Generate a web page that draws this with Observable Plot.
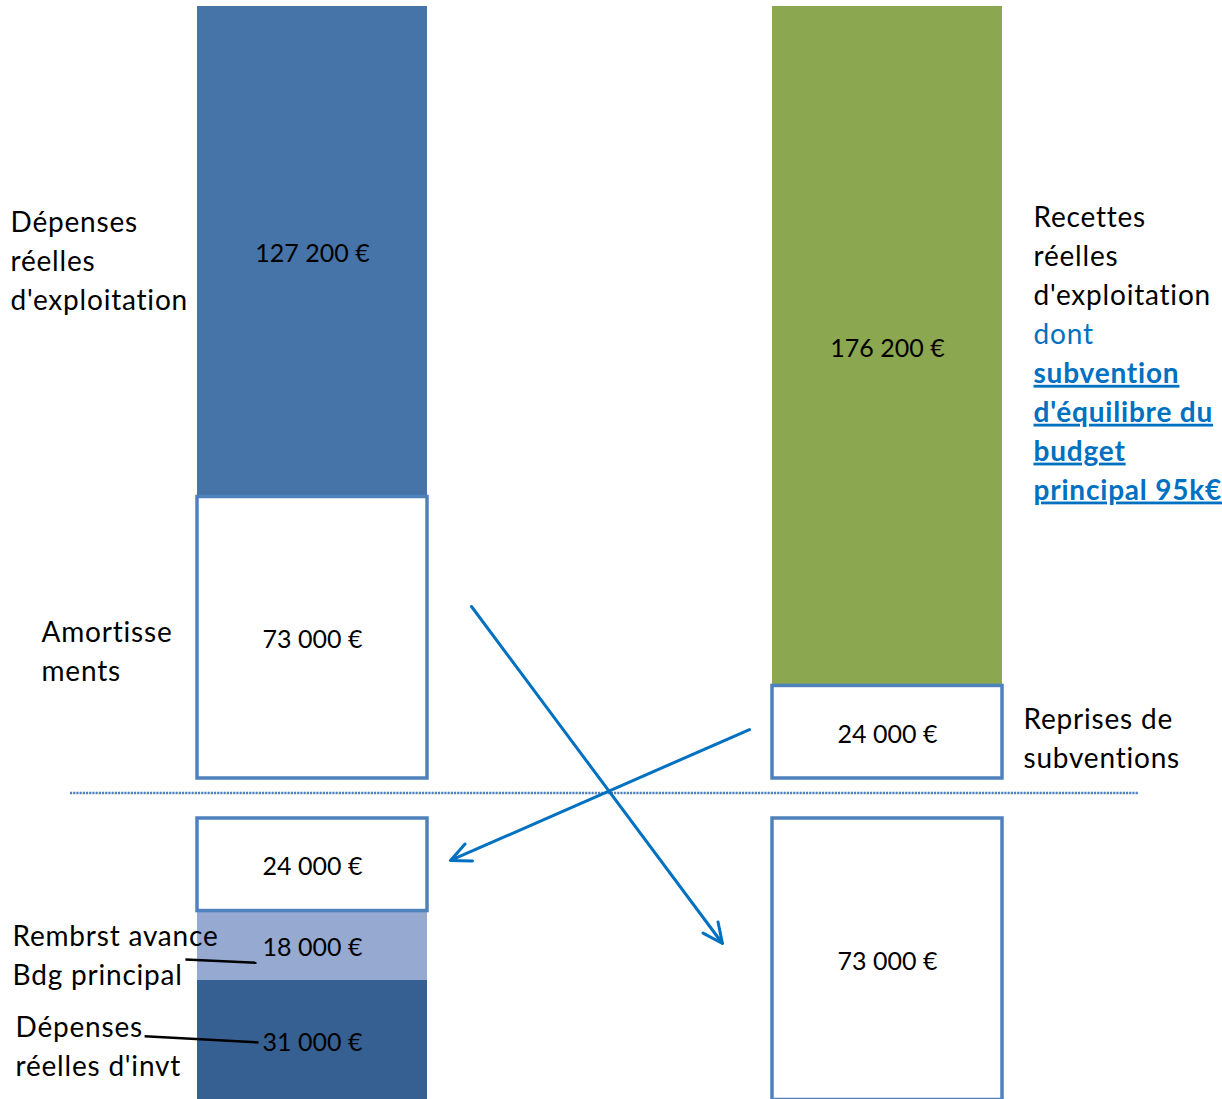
<!DOCTYPE html>
<html><head><meta charset="utf-8">
<script src="https://cdn.jsdelivr.net/npm/d3@7"></script>
<script src="https://cdn.jsdelivr.net/npm/@observablehq/plot@0.6"></script>
<style>body{margin:0;background:#fff;} svg{display:block}</style>
</head><body><div id="chart"></div>
<script>
// ---- data ----
const sides = ["Dépenses", "Recettes"];               // column 0 = dépenses, column 1 = recettes
const segSection = ["fonct", "fonct", "fonct", "fonct", "invest", "invest", "invest", "invest"];
const segSide    = [0, 0, 1, 1, 0, 0, 0, 1];
const segNames   = ["Amortissements", "Dépenses réelles d'exploitation", "Reprises de subventions",
                    "Recettes réelles d'exploitation", "Reprises de subventions (invt)",
                    "Rembrst avance Bdg principal", "Dépenses réelles d'invt", "Amortissements (invt)"];
const segValues  = [73000, 127200, 24000, 176200, 24000, 18000, 31000, 73000];

// side captions (text, attached segment)
const captionTexts = ["Dépenses\nréelles\nd'exploitation", "Amortisse\nments", "Reprises de\nsubventions",
                      "Rembrst avance\nBdg principal", "Dépenses\nréelles d'invt"];
const captionSeg   = [1, 0, 2, 5, 6];
const recettesCaption = "Recettes\nréelles\nd'exploitation";
const dontCaption = "dont";
const subventionCaption = "subvention\nd'équilibre du\nbudget\nprincipal 95k€";

// transfers between sections (column units, euros on the stacked axis)
const transferFrom = [[0.2765, 127980], [0.76, 96080]];
const transferTo   = [[0.713, 40585], [0.24, 62110]];
// leader lines for captions
const leaderFrom = [[-0.221, 36440], [-0.292, 16545]];
const leaderTo   = [[-0.0974, 35580], [-0.0939, 14911]];

// ---- styles / layout ----
const fills = {
  "Dépenses réelles d'exploitation": "#4674A8",
  "Recettes réelles d'exploitation": "#8BA74F",
  "Rembrst avance Bdg principal": "#95A9D1",
  "Dépenses réelles d'invt": "#376092"
};
const borderColor = "#4F81BD";
const arrowColor = "#0070C0";
const H = 1099, W = 1222;
const yRange = [1099.5, 6];
const gapPx = 40;
const halfBar = 0.2;

// ---- build stacked table ----
const rows = segValues.map((v, i) => ({name: segNames[i], side: segSide[i], section: segSection[i], value: v}));
const bottomTotal = d3.sum(rows.filter(r => r.section === "invest" && r.side === 0), r => r.value);
const topTotal = d3.sum(rows.filter(r => r.section === "fonct" && r.side === 0), r => r.value);
const rangePx = yRange[0] - yRange[1];
const gap = gapPx / (rangePx - gapPx) * (bottomTotal + topTotal);
const topBase = bottomTotal + gap;
const cum = {};
for (const r of rows) {
  const key = r.section + r.side;
  const c = cum[key] || 0;
  if (r.section === "fonct") { r.y1 = topBase + c; r.y2 = topBase + c + r.value; }
  else { r.y2 = bottomTotal - c; r.y1 = bottomTotal - c - r.value; }
  cum[key] = c + r.value;
  r.mid = (r.y1 + r.y2) / 2;
  r.fill = fills[r.name] || "white";
  r.boxed = !fills[r.name];
}
const fmt = v => d3.format(",")(v).replace(/,/g, " ") + " €";

const captionDx = [-302, -271, 136, -300, -297];
const captionDy = [6.5, 11.5, 4, 7.5, 4];
const captions = captionTexts.map((t, i) => ({text: t, side: rows[captionSeg[i]].side, y: rows[captionSeg[i]].mid, dx: captionDx[i], dy: captionDy[i]}));
const greenRow = rows[3];

const xDomain = [-312 / 575, (W - 312) / 575];
const ruleY = bottomTotal + gap * 0.64;

const lab = 28, lh = 38.9 / 28;
const plot = Plot.plot({
  width: W, height: H,
  marginTop: 0, marginBottom: 0, marginLeft: 0, marginRight: 0,
  x: {domain: xDomain, axis: null},
  y: {domain: [0, topBase + topTotal], range: yRange, axis: null},
  style: {fontFamily: "Lato, sans-serif", background: "white"},
  marks: [
    Plot.rect(rows.filter(r => !r.boxed), {x1: d => d.side - halfBar, x2: d => d.side + halfBar, y1: "y1", y2: "y2", fill: "fill"}),
    Plot.rect(rows.filter(r => r.boxed), {x1: d => d.side - halfBar, x2: d => d.side + halfBar, y1: "y1", y2: "y2", fill: "white", stroke: borderColor, strokeWidth: 3.5}),
    Plot.ruleY([ruleY], {x1: -0.4209, x2: 1.4365, stroke: borderColor, strokeWidth: 2.5, strokeDasharray: "2.2,1"}),
    Plot.text(rows, {x: "side", y: "mid", text: d => fmt(d.value), fontSize: 25, fill: "black", dy: 2.5}),
    ...captions.map(c => Plot.text([c], {x: "side", y: "y", text: "text", textAnchor: "start", dx: c.dx, dy: c.dy, fontSize: lab, lineHeight: lh, fill: "black"})),
    Plot.text([greenRow], {x: "side", y: "mid", text: () => recettesCaption, textAnchor: "start", dx: 146, dy: -92.5, fontSize: lab, lineHeight: lh, fill: "black"}),
    Plot.text([greenRow], {x: "side", y: "mid", text: () => dontCaption, textAnchor: "start", dx: 146, dy: -14.5, fontSize: lab, lineHeight: lh, fill: arrowColor}),
    Plot.text([greenRow], {x: "side", y: "mid", text: () => subventionCaption, textAnchor: "start", dx: 146, dy: 82.5, fontSize: lab, lineHeight: lh, fill: arrowColor, fontWeight: "bold"}),
    Plot.link(leaderFrom.map((f, i) => ({f, t: leaderTo[i]})), {x1: d => d.f[0], y1: d => d.f[1], x2: d => d.t[0], y2: d => d.t[1], stroke: "black", strokeWidth: 2.5}),
    Plot.arrow(transferFrom.map((f, i) => ({f, t: transferTo[i]})), {x1: d => d.f[0], y1: d => d.f[1], x2: d => d.t[0], y2: d => d.t[1], stroke: arrowColor, strokeWidth: 3, headLength: 11, headAngle: 50})
  ]
});
d3.select(plot).selectAll('g[font-weight="bold"] text').attr("text-decoration", "underline");
d3.select(plot).selectAll('g[font-size="28"] text').attr("letter-spacing", "0.8px");
document.getElementById("chart").appendChild(plot);
</script>
</body></html>
